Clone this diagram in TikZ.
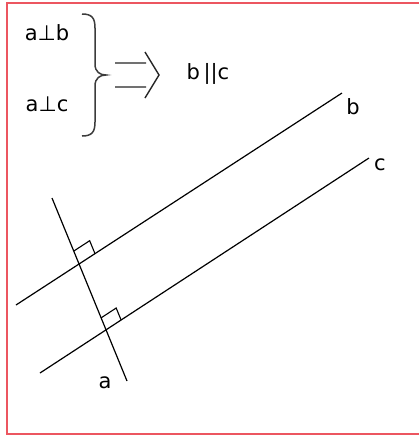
\documentclass[tikz,border=0pt]{standalone}
\usepackage{fontspec}
\setmainfont{DejaVu Sans}
\usetikzlibrary{calc}
\definecolor{frame}{RGB}{236,86,96}
\definecolor{bracec}{RGB}{60,60,60}
\tikzset{
  geo/.style={line width=1.2pt, black},
  lbl/.style={inner sep=0pt, font=\fontsize{21}{24}\selectfont},
  ramark/.style={line width=1.1pt, black},
}
\begin{document}
\begin{tikzpicture}[x=1pt,y=-1pt]
\useasboundingbox (0,0) rectangle (419,437);
\fill[white] (0,0) rectangle (419,437);
% frame
\draw[frame, line width=2.6pt] (422,3) -- (7,3) -- (7,434) -- (422,434);
% statements
\node[lbl] (ab) at (47,33) {a⊥b};
\node[lbl] (ac) at (47,104) {a⊥c};
\draw[bracec, line width=1.5pt] (82,14) .. controls (92,14) and (95,18) .. (95,28) -- (95,64) .. controls (95,72) and (100,75) .. (106,75) .. controls (100,75) and (95,78) .. (95,86) -- (95,122) .. controls (95,132) and (92,136) .. (82,136);
% implies arrow
\draw[line width=1.4pt, black!85] (115,63) -- (146,63) (115,87) -- (146,87) (145,52) -- (159,75) -- (145,98);
\node[lbl] (bc) at (208,74) {b\,||c};
% lines
\coordinate (a1) at (52,198);
\coordinate (a2) at (127,381);
\coordinate (b1) at (16,305);
\coordinate (b2) at (342,93);
\coordinate (c1) at (40,373);
\coordinate (c2) at (369,158);
\draw[geo] (a1) -- (a2);
\draw[geo] (b1) -- (b2);
\draw[geo] (c1) -- (c2);
\node[lbl] (lb) at (353,107) {b};
\node[lbl] (lc) at (380,165) {c};
\node[lbl] (la) at (105,383) {a};
% right angle marks
\coordinate (pb) at (intersection of a1--a2 and b1--b2);
\coordinate (pc) at (intersection of a1--a2 and c1--c2);
\draw[ramark] ($(pb)!14pt!(a1)$) coordinate (u1) -- ($(u1)+($(pb)!19pt!(b2)$)-(pb)$) coordinate (u2) -- ($(pb)!19pt!(b2)$);
\draw[ramark] ($(pc)!13pt!(a1)$) coordinate (v1) -- ($(v1)+($(pc)!18pt!(c2)$)-(pc)$) coordinate (v2) -- ($(pc)!18pt!(c2)$);
\end{tikzpicture}
\end{document}
